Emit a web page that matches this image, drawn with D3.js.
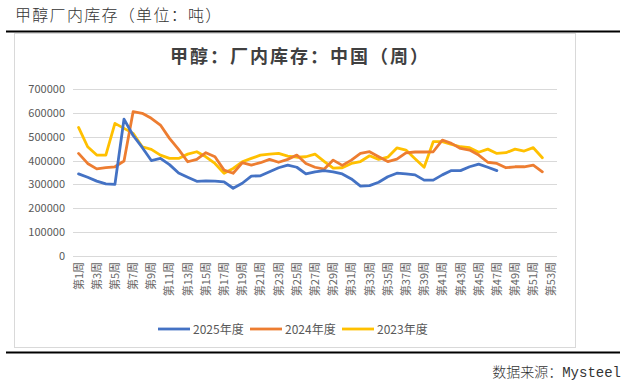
<!DOCTYPE html>
<html>
<head>
<meta charset="utf-8">
<script src="https://cdn.jsdelivr.net/npm/d3@7/dist/d3.min.js"></script>
<style>
  body { margin: 0; background: #fff; }
  svg { display: block; font-family: "Noto Sans CJK SC", "Noto Sans", sans-serif; }
</style>
</head>
<body>
<svg id="chart" width="625" height="388"></svg>
<script>
const weeks = [
  "第1周", "第2周", "第3周", "第4周", "第5周", "第6周", "第7周", "第8周", "第9周", "第10周",
  "第11周", "第12周", "第13周", "第14周", "第15周", "第16周", "第17周", "第18周", "第19周", "第20周",
  "第21周", "第22周", "第23周", "第24周", "第25周", "第26周", "第27周", "第28周", "第29周", "第30周",
  "第31周", "第32周", "第33周", "第34周", "第35周", "第36周", "第37周", "第38周", "第39周", "第40周",
  "第41周", "第42周", "第43周", "第44周", "第45周", "第46周", "第47周", "第48周", "第49周", "第50周",
  "第51周", "第52周", "第53周",
];

// values in tonnes
const stock2025 = [
  344000, 330000, 314000, 302000, 300000, 574000, 505000, 455000, 400000, 409000,
  383000, 348000, 330000, 313000, 315000, 314000, 311000, 284000, 305000, 335000,
  336000, 353000, 370000, 381000, 372000, 344000, 353000, 358000, 353000, 344000,
  323000, 293000, 295000, 309000, 332000, 347000, 344000, 340000, 318000, 318000,
  340000, 358000, 358000, 374000, 385000, 372000, 358000,
];
const stock2024 = [
  430000, 388000, 365000, 370000, 374000, 398000, 605000, 598000, 577000, 549000,
  493000, 447000, 395000, 405000, 433000, 416000, 360000, 347000, 391000, 381000,
  391000, 405000, 393000, 405000, 423000, 388000, 372000, 364000, 402000, 380000,
  402000, 430000, 437000, 416000, 396000, 406000, 432000, 436000, 436000, 437000,
  486000, 472000, 451000, 444000, 423000, 393000, 388000, 370000, 374000, 374000,
  381000, 353000,
];
const stock2023 = [
  539000, 458000, 423000, 423000, 556000, 535000, 514000, 458000, 447000, 423000,
  409000, 409000, 427000, 437000, 416000, 388000, 347000, 367000, 395000, 409000,
  423000, 427000, 430000, 419000, 414000, 416000, 427000, 397000, 368000, 370000,
  388000, 396000, 420000, 405000, 414000, 453000, 444000, 408000, 372000, 479000,
  479000, 468000, 458000, 454000, 435000, 448000, 430000, 433000, 448000, 440000,
  454000, 412000,
];

const seriesNames = ["2025年度", "2024年度", "2023年度"];
const seriesColors = ["#4472C4", "#ED7D31", "#FFC000"];
const yTicks = [0, 100000, 200000, 300000, 400000, 500000, 600000, 700000];

const svg = d3.select("#chart");

// page header
svg.append("text")
  .attr("x", 15)
  .attr("y", 21)
  .attr("font-size", 16)
  .attr("font-weight", 300)
  .attr("letter-spacing", 1.3)
  .attr("fill", "#333")
  .text("甲醇厂内库存（单位：吨）");

svg.append("line")
  .attr("x1", 6).attr("x2", 620)
  .attr("y1", 31.5).attr("y2", 31.5)
  .attr("stroke", "#000").attr("stroke-width", 2);

// chart frame
svg.append("rect")
  .attr("x", 14.5).attr("y", 33.5)
  .attr("width", 561).attr("height", 314)
  .attr("fill", "#fff")
  .attr("stroke", "#d9d9d9");

svg.append("text")
  .attr("x", 300)
  .attr("y", 63)
  .attr("text-anchor", "middle")
  .attr("font-size", 18)
  .attr("font-weight", "bold")
  .attr("letter-spacing", 2)
  .attr("fill", "#404040")
  .text("甲醇：厂内库存：中国（周）");

const x = d3.scaleBand().domain(weeks).range([74, 556]);
const y = d3.scaleLinear().domain([0, 700000]).range([256, 89]);

// grid
svg.append("g")
  .selectAll("line")
  .data(yTicks)
  .join("line")
  .attr("x1", 73).attr("x2", 557)
  .attr("y1", (d) => Math.round(y(d)) + 0.5)
  .attr("y2", (d) => Math.round(y(d)) + 0.5)
  .attr("stroke", "#d9d9d9");

svg.append("g")
  .selectAll("text")
  .data(yTicks)
  .join("text")
  .attr("x", 65)
  .attr("y", (d) => y(d) + 4)
  .attr("text-anchor", "end")
  .attr("font-size", 11)
  .attr("fill", "#595959")
  .text((d) => d);

// x labels, every other week
svg.append("g")
  .selectAll("text")
  .data(weeks.filter((_, i) => i % 2 === 0))
  .join("text")
  .attr("transform", (d) => `translate(${x(d) + x.bandwidth() / 2 + 4},262) rotate(-90)`)
  .attr("text-anchor", "end")
  .attr("font-size", 11)
  .attr("fill", "#666")
  .text((d) => d);

const line = d3.line()
  .x((d, i) => x(weeks[i]) + x.bandwidth() / 2)
  .y((d) => y(d));

const seriesData = [stock2025, stock2024, stock2023];

// draw 2023 first so 2025 sits on top
svg.append("g")
  .selectAll("path")
  .data(seriesData.slice().reverse())
  .join("path")
  .attr("d", (d) => line(d))
  .attr("fill", "none")
  .attr("stroke", (d, i) => seriesColors[2 - i])
  .attr("stroke-width", 2.8)
  .attr("stroke-linejoin", "round")
  .attr("stroke-linecap", "round");

// legend
const legendX = [158, 250, 342];
const legend = svg.append("g")
  .selectAll("g")
  .data(seriesNames)
  .join("g")
  .attr("transform", (d, i) => `translate(${legendX[i]},329)`);

legend.append("line")
  .attr("x1", 0).attr("x2", 32)
  .attr("stroke", (d, i) => seriesColors[i])
  .attr("stroke-width", 2.8);

legend.append("text")
  .attr("x", 35)
  .attr("y", 4.5)
  .attr("font-size", 12)
  .attr("fill", "#595959")
  .text((d) => d);

// footer
svg.append("line")
  .attr("x1", 6).attr("x2", 620)
  .attr("y1", 352.5).attr("y2", 352.5)
  .attr("stroke", "#000").attr("stroke-width", 2);

svg.append("text")
  .attr("x", 621)
  .attr("y", 377)
  .attr("text-anchor", "end")
  .attr("font-size", 14)
  .attr("font-weight", 300)
  .attr("font-family", "'Liberation Mono', 'Noto Sans CJK SC', monospace")
  .attr("fill", "#333")
  .text("数据来源：Mysteel");
</script>
</body>
</html>
